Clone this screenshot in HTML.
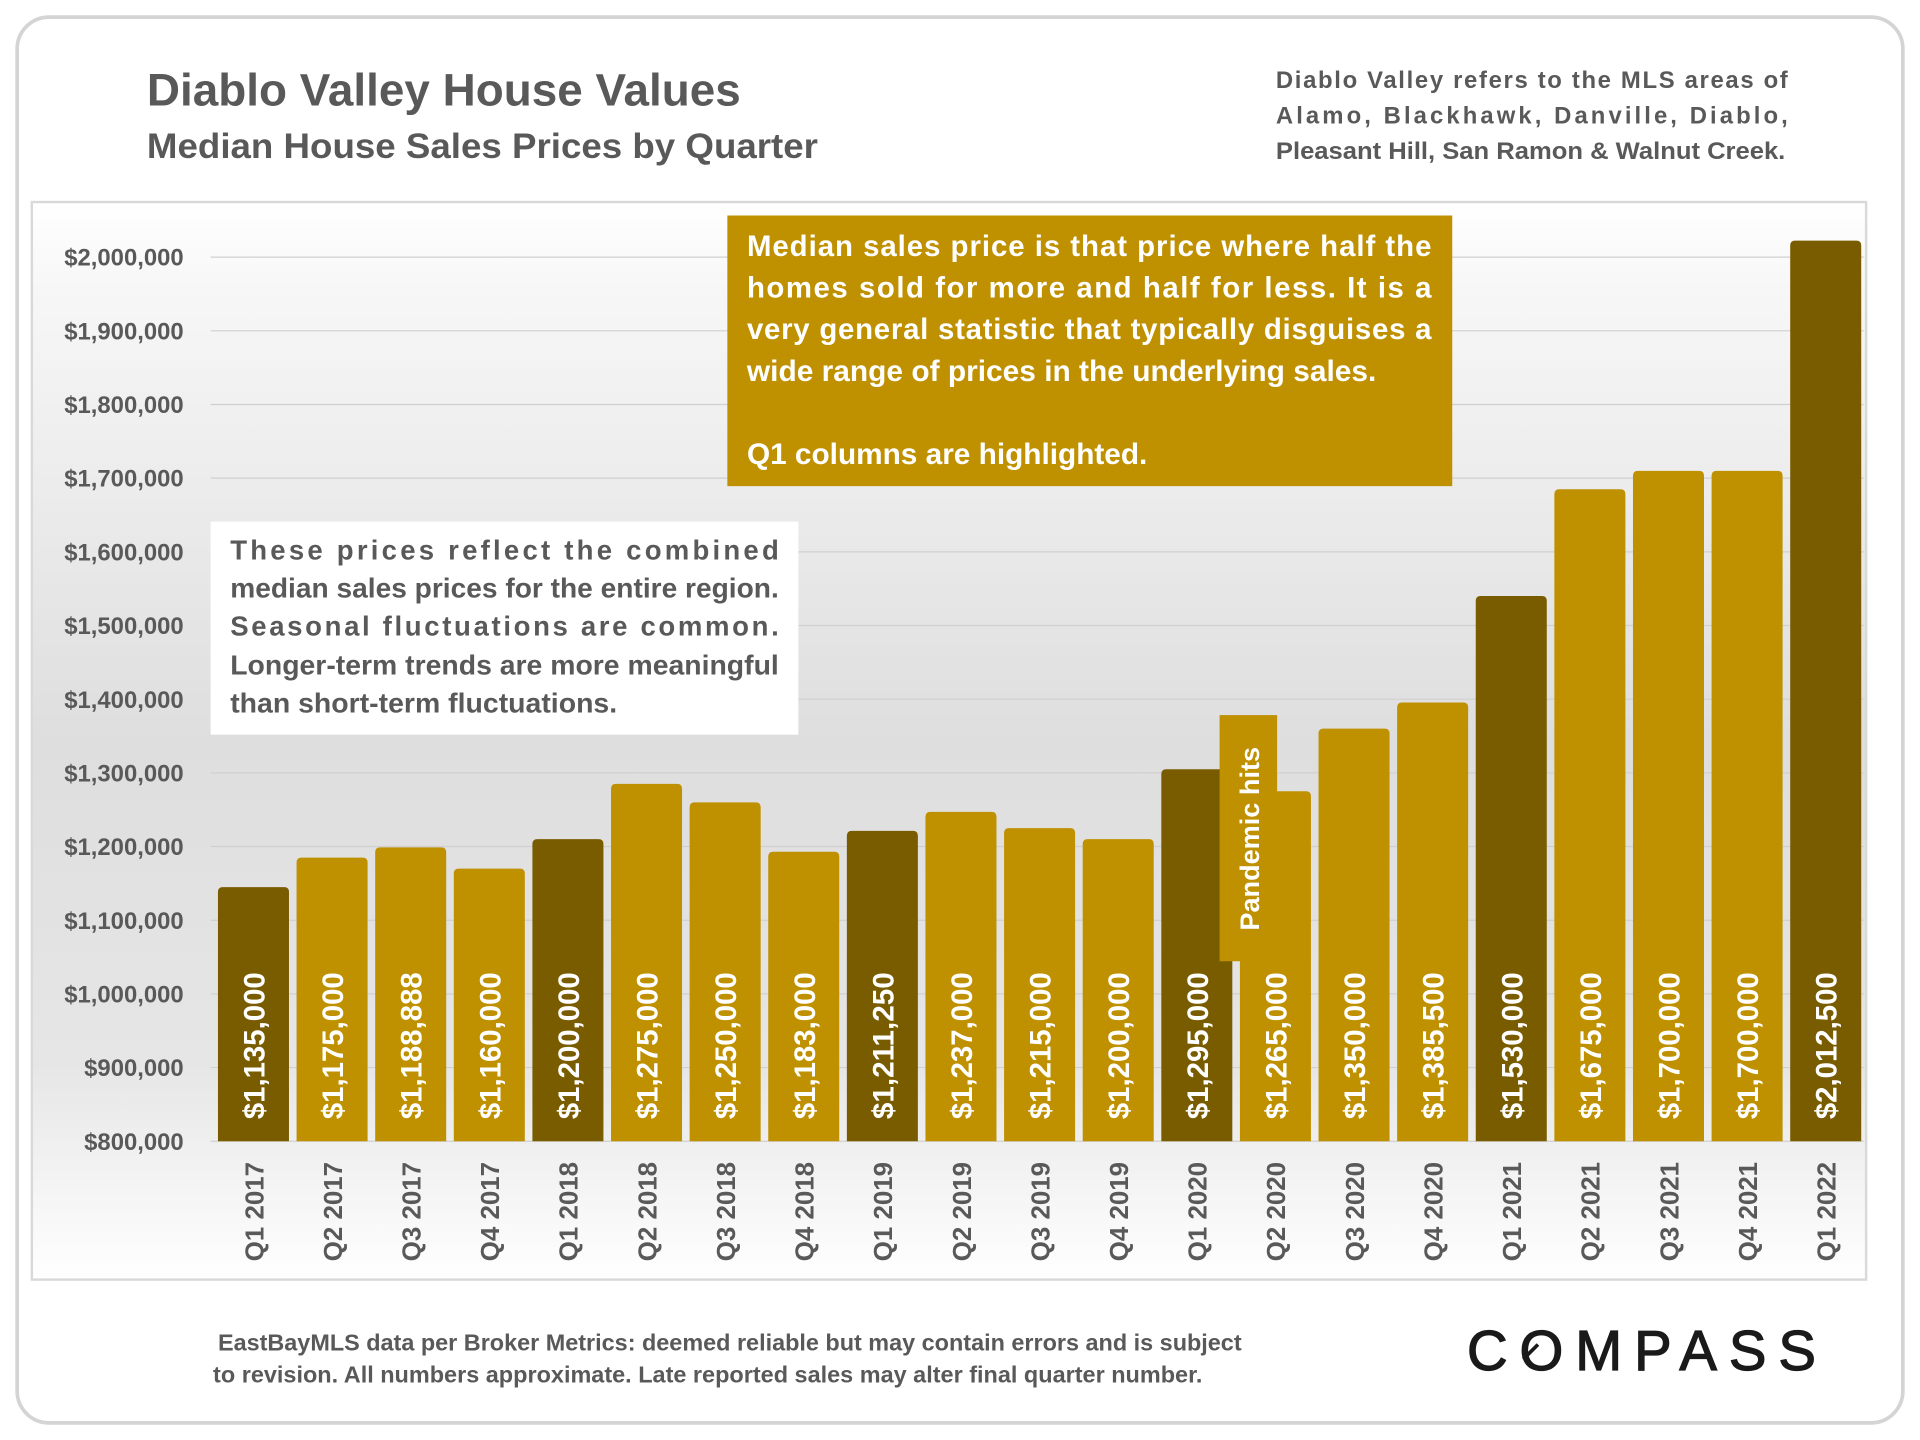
<!DOCTYPE html>
<html><head><meta charset="utf-8">
<style>
html,body{margin:0;padding:0;background:#fff;}
svg{display:block;font-family:"Liberation Sans",sans-serif;}
</style></head>
<body>
<svg id="chart" width="1920" height="1440" viewBox="0 0 1568 1176" xmlns="http://www.w3.org/2000/svg">
<defs>
<linearGradient id="bg" x1="0" y1="0" x2="0" y2="1">
<stop offset="0" stop-color="#ffffff"/>
<stop offset="0.08" stop-color="#f7f7f7"/>
<stop offset="0.5" stop-color="#dedede"/>
<stop offset="0.8" stop-color="#e6e6e6"/>
<stop offset="1" stop-color="#ffffff"/>
</linearGradient>
</defs>
<rect x="14" y="14" width="1540" height="1148" rx="26" fill="#fff" stroke="#d4d4d4" stroke-width="3"/>
<text x="120" y="86" font-size="37" font-weight="bold" fill="#595959" textLength="485" lengthAdjust="spacingAndGlyphs">Diablo Valley House Values</text>
<text x="120" y="129" font-size="29" font-weight="bold" fill="#595959" textLength="548" lengthAdjust="spacingAndGlyphs">Median House Sales Prices by Quarter</text>
<g font-size="19.5" font-weight="bold" fill="#595959">
<text x="1042" y="72" textLength="418" lengthAdjust="spacing">Diablo Valley refers to the MLS areas of</text>
<text x="1042" y="101" textLength="418" lengthAdjust="spacing">Alamo, Blackhawk, Danville, Diablo,</text>
<text x="1042" y="130" textLength="416" lengthAdjust="spacingAndGlyphs">Pleasant Hill, San Ramon &amp; Walnut Creek.</text>
</g>
<rect x="26" y="165" width="1498" height="880" fill="url(#bg)" stroke="#d9d9d9" stroke-width="2"/>
<g id="grid"></g>
<g id="yticks" font-size="19.5" font-weight="bold" fill="#595959" text-anchor="end"></g>
<g id="bars"></g>
<g id="xlabels" font-size="21" font-weight="bold" fill="#595959"></g>
<rect x="594" y="176" width="592" height="221" fill="#bf9000"/>
<g font-size="24" font-weight="bold" fill="#fff">
<text x="610" y="209" textLength="559" lengthAdjust="spacing">Median sales price is that price where half the</text>
<text x="610" y="243" textLength="559" lengthAdjust="spacing">homes sold for more and half for less. It is a</text>
<text x="610" y="277" textLength="559" lengthAdjust="spacing">very general statistic that typically disguises a</text>
<text x="610" y="311" textLength="514" lengthAdjust="spacingAndGlyphs">wide range of prices in the underlying sales.</text>
<text x="610" y="379" textLength="327" lengthAdjust="spacingAndGlyphs">Q1 columns are highlighted.</text>
</g>
<rect x="172" y="426" width="480" height="174" fill="#fff"/>
<g font-size="22.5" font-weight="bold" fill="#595959">
<text x="188" y="457" textLength="448" lengthAdjust="spacing">These prices reflect the combined</text>
<text x="188" y="488" textLength="448" lengthAdjust="spacingAndGlyphs">median sales prices for the entire region.</text>
<text x="188" y="519" textLength="448" lengthAdjust="spacing">Seasonal fluctuations are common.</text>
<text x="188" y="551" textLength="448" lengthAdjust="spacingAndGlyphs">Longer-term trends are more meaningful</text>
<text x="188" y="582" textLength="316" lengthAdjust="spacingAndGlyphs">than short-term fluctuations.</text>
</g>
<rect x="996" y="584" width="47" height="201" fill="#bf9000"/>
<text transform="translate(1028,760) rotate(-90)" font-size="22" font-weight="bold" fill="#fff" textLength="150" lengthAdjust="spacingAndGlyphs">Pandemic hits</text>
<g font-size="19" font-weight="bold" fill="#595959">
<text x="178" y="1103" textLength="836" lengthAdjust="spacingAndGlyphs">EastBayMLS data per Broker Metrics:  deemed reliable but may contain errors and is subject</text>
<text x="174" y="1129" textLength="808" lengthAdjust="spacingAndGlyphs">to revision. All numbers approximate. Late reported sales may alter final quarter number.</text>
</g>
<text x="1198" y="1119" font-size="46" fill="#1a1a1a" stroke="#1a1a1a" stroke-width="1" textLength="285" lengthAdjust="spacing">COMPASS</text>
<line x1="1244" y1="1110" x2="1256" y2="1098" stroke="#1a1a1a" stroke-width="3"/>
</svg>
<script>
const categories = ["Q1 2017","Q2 2017","Q3 2017","Q4 2017","Q1 2018","Q2 2018","Q3 2018","Q4 2018","Q1 2019","Q2 2019","Q3 2019","Q4 2019","Q1 2020","Q2 2020","Q3 2020","Q4 2020","Q1 2021","Q2 2021","Q3 2021","Q4 2021","Q1 2022"];
const values = [1135000,1175000,1188888,1160000,1200000,1275000,1250000,1183000,1211250,1237000,1215000,1200000,1295000,1265000,1350000,1385500,1530000,1675000,1700000,1700000,2012500];
const valueLabels = ["$1,135,000","$1,175,000","$1,188,888","$1,160,000","$1,200,000","$1,275,000","$1,250,000","$1,183,000","$1,211,250","$1,237,000","$1,215,000","$1,200,000","$1,295,000","$1,265,000","$1,350,000","$1,385,500","$1,530,000","$1,675,000","$1,700,000","$1,700,000","$2,012,500"];
const yTicks = [800000,900000,1000000,1100000,1200000,1300000,1400000,1500000,1600000,1700000,1800000,1900000,2000000];
const yTickLabels = ["$800,000","$900,000","$1,000,000","$1,100,000","$1,200,000","$1,300,000","$1,400,000","$1,500,000","$1,600,000","$1,700,000","$1,800,000","$1,900,000","$2,000,000"];

const NS = "http://www.w3.org/2000/svg";
const yMin = 800000, yMax = 2000000, yBottom = 932, yTop = 210;
function yScale(v){ return yBottom - (v - yMin) / (yMax - yMin) * (yBottom - yTop); }
const x0 = 178, pitch = 64.2, bw = 58, barLift = 6;
function xScale(i){ return x0 + i * pitch; }

const grid = document.getElementById('grid');
const yt = document.getElementById('yticks');
yTicks.forEach((t, i) => {
  const y = yScale(t);
  const l = document.createElementNS(NS, 'line');
  l.setAttribute('x1', 172); l.setAttribute('x2', 1522);
  l.setAttribute('y1', y); l.setAttribute('y2', y);
  l.setAttribute('stroke', '#d0d0d0'); l.setAttribute('stroke-width', 1);
  
  
  grid.appendChild(l);
  const tx = document.createElementNS(NS, 'text');
  tx.setAttribute('x', 150); tx.setAttribute('y', y + 7);
  tx.textContent = yTickLabels[i];
  
  
  yt.appendChild(tx);
});

const bars = document.getElementById('bars');
const xl = document.getElementById('xlabels');
values.forEach((v, i) => {
  const x = xScale(i), y = yScale(v) - barLift;
  const isQ1 = categories[i].startsWith('Q1');
  const r = document.createElementNS(NS, 'path');
  const rr = 4;
  r.setAttribute('d', `M${x},${yBottom} L${x},${y+rr} Q${x},${y} ${x+rr},${y} L${x+bw-rr},${y} Q${x+bw},${y} ${x+bw},${y+rr} L${x+bw},${yBottom} Z`);
  r.setAttribute('fill', isQ1 ? '#7a5c00' : '#bf9000');
  
  
  bars.appendChild(r);
  const vt = document.createElementNS(NS, 'text');
  vt.setAttribute('transform', `translate(${x + bw/2 + 9},914) rotate(-90)`);
  vt.setAttribute('font-size', '24'); vt.setAttribute('font-weight', 'bold'); vt.setAttribute('fill', '#fff');
  vt.setAttribute('textLength', '120'); vt.setAttribute('lengthAdjust', 'spacingAndGlyphs');
  vt.textContent = valueLabels[i];
  
  
  bars.appendChild(vt);
  const ct = document.createElementNS(NS, 'text');
  ct.setAttribute('transform', `translate(${x + bw/2 + 8},1030) rotate(-90)`);
  ct.setAttribute('textLength', '81'); ct.setAttribute('lengthAdjust', 'spacingAndGlyphs');
  ct.textContent = categories[i];
  
  
  xl.appendChild(ct);
});
</script>
</body></html>
